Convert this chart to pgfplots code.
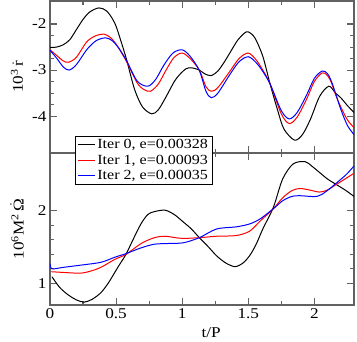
\documentclass[border=0pt]{standalone}
\usepackage{fontspec}
\setmainfont{Liberation Serif}[FakeStretch=1.15]
\usepackage{pgfplots}
\pgfplotsset{compat=1.18}

\pgfplotsset{
  panel/.style={
    scale only axis, width=304bp, height=152bp,
    xmin=0, xmax=2.3,
    xtick={0,0.5,1,1.5,2}, minor x tick num=1,
    tick align=inside, xtick pos=both, ytick pos=both,
    major tick length=7bp, minor tick length=4bp,
    axis line style={draw=black!62, line width=1.3pt},
    tick style={draw=black!62, line width=1.1pt},
    tick label style={font=\fontsize{15}{18}\selectfont},
    /pgf/number format/assume math mode=true,
    every axis y label/.style={at={(axis description cs:-0.1086,0.5)},
      rotate=90, anchor=center, font=\fontsize{15}{18}\selectfont},
    every axis plot/.append style={line width=1pt},
  },
}

\begin{document}
\begin{tikzpicture}
% lower panel
\begin{axis}[panel, at={(0,0)}, anchor=south west,
  ymin=0.7, ymax=2.8, ytick={1,2}, minor y tick num=4,
  xlabel={t/P},
  every axis x label/.style={at={(axis description cs:0.53,-0.184)},
    anchor=center, font=\fontsize{15}{18}\selectfont},
  ylabel={10\textsuperscript{6}M\textsuperscript{2}\,$\dot{\mbox{Ω}}$},
]
\addplot[black, smooth] coordinates {
 (0.015,1.09) (0.07,0.95) (0.13,0.85) (0.20,0.77) (0.26,0.74) (0.32,0.78)
 (0.385,0.87) (0.44,1.00) (0.49,1.15) (0.53,1.27) (0.575,1.40) (0.63,1.61)
 (0.688,1.82) (0.74,1.95) (0.79,1.99) (0.87,2.01) (0.94,1.95) (1.00,1.86)
 (1.07,1.75) (1.13,1.63) (1.20,1.50) (1.26,1.38) (1.33,1.28) (1.40,1.23)
 (1.46,1.28) (1.51,1.38) (1.56,1.54) (1.61,1.75) (1.69,2.05) (1.76,2.44)
 (1.84,2.65) (1.93,2.68) (1.98,2.62) (2.04,2.53) (2.10,2.44) (2.17,2.36)
 (2.24,2.28) (2.30,2.20)
};
\addplot[red, smooth] coordinates {
 (0.01,1.16) (0.10,1.15) (0.23,1.14) (0.31,1.17) (0.385,1.22) (0.49,1.33)
 (0.575,1.40) (0.69,1.55) (0.79,1.63) (0.87,1.65) (0.95,1.63) (1.01,1.62)
 (1.13,1.63) (1.26,1.65) (1.41,1.66) (1.51,1.72) (1.59,1.86) (1.69,2.03)
 (1.76,2.18) (1.83,2.28) (1.89,2.31) (1.96,2.29) (2.04,2.26) (2.10,2.29)
 (2.17,2.37) (2.24,2.45) (2.30,2.52)
};
\addplot[blue, smooth] coordinates {
 (0.00,1.27) (0.015,1.20) (0.10,1.22) (0.23,1.25) (0.385,1.29) (0.49,1.36)
 (0.575,1.41) (0.69,1.49) (0.79,1.54) (0.90,1.55) (1.01,1.56) (1.13,1.63)
 (1.26,1.75) (1.41,1.78) (1.51,1.82) (1.59,1.89) (1.69,2.03) (1.76,2.14)
 (1.83,2.20) (1.89,2.21) (2.02,2.20) (2.09,2.27) (2.17,2.39) (2.24,2.50)
 (2.30,2.62)
};
\end{axis}
% upper panel
\begin{axis}[panel, at={(0,152bp)}, anchor=south west,
  ymin=-4.8, ymax=-1.5, ytick={-4,-3,-2}, minor y tick num=3,
  xticklabels={},
  ylabel={10\textsuperscript{3}\,$\dot{\mbox{r}}$},
  legend cell align=left,
  legend style={at={(0.0822,-0.2086)}, anchor=south west,
    draw=black, line width=0.8pt, fill=white,
    font=\fontsize{14}{16}\selectfont,
    inner xsep=2pt, inner ysep=1.5pt, row sep=0.5pt},
  legend image code/.code={\draw[#1, line width=1pt] (0bp,0bp) -- (17bp,0bp);},
]
\addplot[black, smooth] coordinates {
 (0.00,-2.51) (0.05,-2.50) (0.10,-2.45) (0.15,-2.34) (0.20,-2.12) (0.25,-1.90)
 (0.30,-1.74) (0.37,-1.65) (0.43,-1.72) (0.49,-1.98) (0.54,-2.40) (0.58,-2.78)
 (0.64,-3.42) (0.70,-3.80) (0.77,-3.95) (0.82,-3.86) (0.88,-3.57) (0.94,-3.25)
 (0.98,-3.10) (1.03,-2.97) (1.07,-2.95) (1.13,-3.00) (1.17,-3.08) (1.22,-3.12)
 (1.27,-3.02) (1.32,-2.82) (1.36,-2.63) (1.42,-2.35) (1.47,-2.20) (1.50,-2.17)
 (1.55,-2.30) (1.61,-2.70) (1.665,-3.30) (1.72,-3.85) (1.77,-4.28) (1.85,-4.52)
 (1.91,-4.40) (1.97,-4.07) (2.04,-3.57) (2.11,-3.35) (2.16,-3.50) (2.20,-3.60)
 (2.25,-3.77) (2.30,-3.92)
};
\addlegendentry{Iter 0, e=0.00328}
\addplot[red, smooth] coordinates {
 (0.00,-2.56) (0.05,-2.68) (0.10,-2.80) (0.14,-2.83) (0.20,-2.72) (0.28,-2.38)
 (0.35,-2.25) (0.41,-2.22) (0.46,-2.30) (0.51,-2.48) (0.58,-2.82) (0.66,-3.28)
 (0.71,-3.42) (0.76,-3.46) (0.82,-3.30) (0.88,-2.99) (0.94,-2.72) (1.00,-2.63)
 (1.06,-2.75) (1.13,-3.00) (1.18,-3.36) (1.22,-3.46) (1.27,-3.38) (1.36,-3.03)
 (1.43,-2.75) (1.50,-2.63) (1.56,-2.78) (1.61,-3.00) (1.665,-3.30) (1.75,-3.95)
 (1.81,-4.16) (1.87,-4.02) (1.94,-3.64) (2.00,-3.25) (2.06,-3.06) (2.10,-3.12)
 (2.13,-3.28) (2.16,-3.53) (2.20,-3.80) (2.25,-4.08) (2.30,-4.25)
};
\addlegendentry{Iter 1, e=0.00093}
\addplot[blue, smooth] coordinates {
 (0.00,-2.57) (0.05,-2.74) (0.10,-2.93) (0.145,-3.00) (0.20,-2.88) (0.28,-2.55)
 (0.35,-2.36) (0.42,-2.30) (0.47,-2.36) (0.52,-2.52) (0.58,-2.80) (0.66,-3.24)
 (0.74,-3.35) (0.80,-3.20) (0.86,-2.90) (0.93,-2.63) (1.00,-2.56) (1.06,-2.70)
 (1.13,-3.01) (1.18,-3.46) (1.22,-3.60) (1.27,-3.50) (1.36,-3.10) (1.43,-2.82)
 (1.50,-2.71) (1.56,-2.84) (1.61,-3.03) (1.665,-3.30) (1.75,-3.88) (1.81,-4.06)
 (1.87,-3.92) (1.94,-3.55) (2.00,-3.18) (2.06,-3.02) (2.10,-3.08) (2.13,-3.25)
 (2.16,-3.50) (2.20,-3.85) (2.25,-4.20) (2.30,-4.40)
};
\addlegendentry{Iter 2, e=0.00035}
\end{axis}
\pgfresetboundingbox
\path (-50bp,-37bp) rectangle (307bp,305bp);
\end{tikzpicture}
\end{document}
